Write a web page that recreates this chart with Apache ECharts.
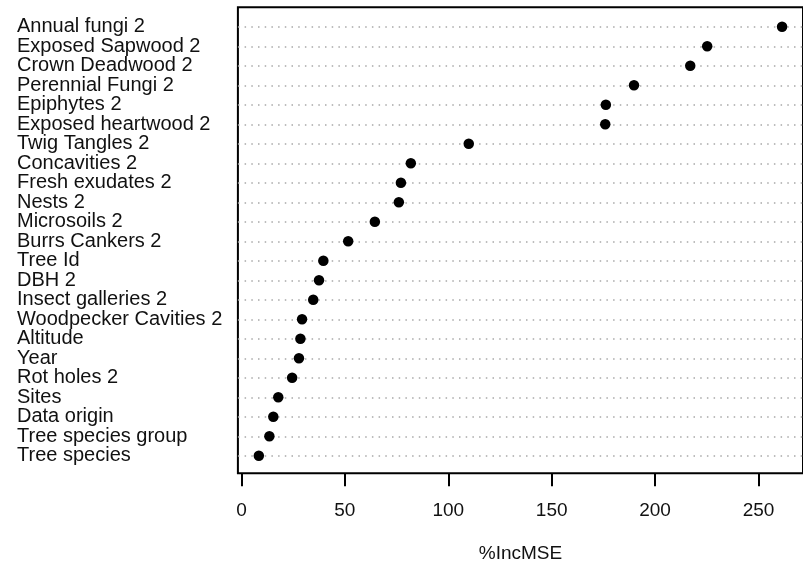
<!DOCTYPE html>
<html>
<head>
<meta charset="utf-8">
<script src="https://cdn.jsdelivr.net/npm/echarts@6/dist/echarts.min.js"></script>
<style>
  html, body { margin: 0; padding: 0; background: #fff; }
  #chart { width: 803px; height: 571px; }
</style>
</head>
<body>
<div id="chart"></div>
<script>
// Variable importance (%IncMSE), listed top to bottom
const variables = [
  'Annual fungi 2', 'Exposed Sapwood 2', 'Crown Deadwood 2', 'Perennial Fungi 2',
  'Epiphytes 2', 'Exposed heartwood 2', 'Twig Tangles 2', 'Concavities 2',
  'Fresh exudates 2', 'Nests 2', 'Microsoils 2', 'Burrs Cankers 2', 'Tree Id',
  'DBH 2', 'Insect galleries 2', 'Woodpecker Cavities 2', 'Altitude', 'Year',
  'Rot holes 2', 'Sites', 'Data origin', 'Tree species group', 'Tree species'
];
const incMSE = [
  261.4, 225.2, 217.0, 189.8,
  176.2, 175.9, 109.9, 81.9,
  77.1, 76.1, 64.5, 51.6, 39.6,
  37.5, 34.7, 29.3, 28.5, 27.8,
  24.5, 17.8, 15.4, 13.5, 8.4
];
const xTicks = [0, 50, 100, 150, 200, 250];

// Dotchart layout: row n at the top, row 1 at the bottom
const n = variables.length;
const rowPos = variables.map((_, i) => n - i);

// x range padded by 4% on each side
const lo = Math.min(...incMSE), hi = Math.max(...incMSE);
const pad = 0.04 * (hi - lo);

const FONT = 'Liberation Sans, Arial, sans-serif';

// plot box geometry
const boxLeft = 237.9, boxTop = 7.3, boxW = 571.3, boxH = 466;
const yMin = 0.1, yMax = n + 1.0;
const unit = boxH / (yMax - yMin);
// label band: one category band per row, centred on the rows
const bandTop = boxTop + (yMax - n - 0.5) * unit;

const chart = echarts.init(document.getElementById('chart'), null, { renderer: 'canvas' });
chart.setOption({
  animation: false,
  backgroundColor: '#ffffff',
  textStyle: { fontFamily: FONT },
  grid: [
    {
      left: boxLeft, top: boxTop, width: boxW, height: boxH,
      show: true, borderColor: '#000', borderWidth: 2, backgroundColor: 'transparent'
    },
    {
      left: boxLeft, top: bandTop, width: boxW, height: n * unit, show: false
    }
  ],
  xAxis: [
    {
      gridIndex: 0,
      type: 'value',
      min: lo - pad, max: hi + pad,
      axisLine: { show: false },
      splitLine: { show: false },
      axisTick: { show: true, customValues: xTicks, length: 13, lineStyle: { color: '#000', width: 2 } },
      axisLabel: {
        customValues: xTicks, margin: 28, fontSize: 19, color: '#111',
        fontFamily: FONT, showMinLabel: true, showMaxLabel: true
      },
      name: '%IncMSE',
      nameLocation: 'middle',
      nameGap: 71,
      nameTextStyle: { fontSize: 19, color: '#111', fontFamily: FONT }
    },
    { gridIndex: 1, type: 'value', show: false, min: 0, max: 1 }
  ],
  yAxis: [
    {
      gridIndex: 0,
      type: 'value',
      min: yMin, max: yMax,
      axisLine: { show: false },
      axisTick: { show: false },
      splitLine: { show: false },
      axisLabel: { show: false }
    },
    {
      gridIndex: 1,
      type: 'category',
      data: variables,
      inverse: true,
      axisLine: { show: false },
      axisTick: { show: false },
      splitLine: { show: false },
      axisLabel: {
        interval: 0,
        align: 'left',
        margin: boxLeft - 17,
        padding: [3, 0, 0, 0],
        fontSize: 20,
        color: '#111',
        fontFamily: FONT
      }
    }
  ],
  series: [
    {
      // dotted guide line for every row
      type: 'scatter',
      xAxisIndex: 0, yAxisIndex: 0,
      data: [],
      z: 1,
      silent: true,
      markLine: {
        silent: true,
        z: 1,
        symbol: 'none',
        label: { show: false },
        emphasis: { disabled: true },
        lineStyle: { type: [1.5, 5.2], color: '#a8a8a8', width: 1.5 },
        data: rowPos.map(p => ({ yAxis: p }))
      }
    },
    {
      type: 'scatter',
      xAxisIndex: 0, yAxisIndex: 0,
      z: 10,
      symbol: 'circle',
      symbolSize: 10.5,
      itemStyle: { color: '#000', opacity: 1, borderWidth: 0 },
      data: incMSE.map((v, i) => [v, rowPos[i]])
    }
  ]
});
</script>
</body>
</html>
